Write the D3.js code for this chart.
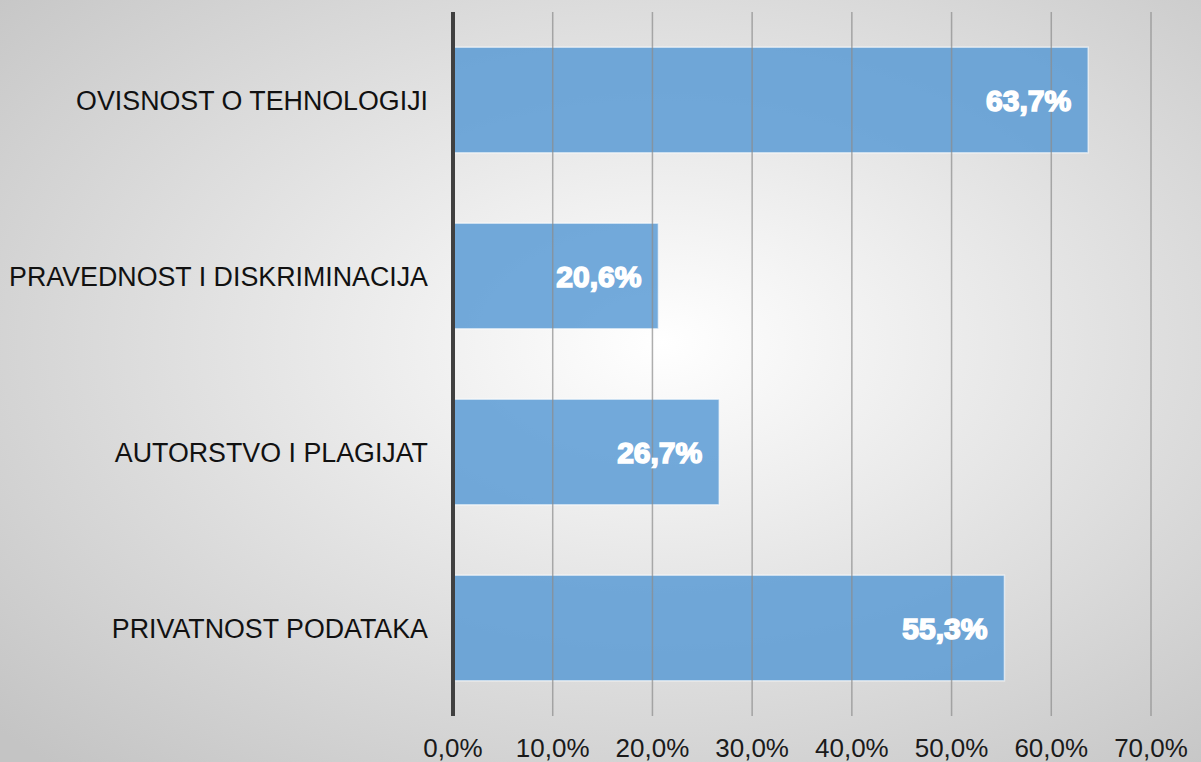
<!DOCTYPE html>
<html>
<head>
<meta charset="utf-8">
<script src="https://cdn.jsdelivr.net/npm/d3@7"></script>
<style>
  body { margin: 0; overflow: hidden; }
  text { font-family: "Liberation Sans", Arial, sans-serif; }
</style>
</head>
<body>
<div id="chart"></div>
<script>
const WIDTH = 1201;
const HEIGHT = 762;

const categories = ["OVISNOST O TEHNOLOGIJI", "PRAVEDNOST I DISKRIMINACIJA", "AUTORSTVO I PLAGIJAT", "PRIVATNOST PODATAKA"];
const values = [63.7, 20.6, 26.7, 55.3];
const ticks = [0, 10, 20, 30, 40, 50, 60, 70];

const margin = { top: 12, right: 50, bottom: 46, left: 453 };

const svg = d3.select("#chart")
    .append("svg")
    .attr("width", WIDTH)
    .attr("height", HEIGHT);

// Background: soft radial gradient, white in the middle, grey at the corners
const defs = svg.append("defs");
const grad = defs.append("radialGradient")
    .attr("id", "bg")
    .attr("cx", "55%").attr("cy", "45%").attr("r", "75%");
grad.append("stop").attr("offset", "0%").attr("stop-color", "#ffffff");
grad.append("stop").attr("offset", "100%").attr("stop-color", "#c4c4c4");

svg.append("rect")
    .attr("width", WIDTH)
    .attr("height", HEIGHT)
    .attr("fill", "url(#bg)");

const x = d3.scaleLinear()
    .domain([0, 70])
    .range([margin.left, WIDTH - margin.right]);

const y = d3.scaleBand()
    .domain(categories)
    .range([margin.top, HEIGHT - margin.bottom])
    .paddingInner(0.4)
    .paddingOuter(0.2);

const fmt = v => v.toFixed(1).replace(".", ",") + "%";

// Bars first, grid lines show through them
svg.append("g")
    .selectAll("rect")
    .data(values)
    .join("rect")
    .attr("x", x(0))
    .attr("y", (d, i) => y(categories[i]))
    .attr("width", d => x(d) - x(0))
    .attr("height", y.bandwidth())
    .attr("fill", "#5b9bd5")
    .attr("fill-opacity", 0.85)
    .attr("stroke", "#ffffff")
    .attr("stroke-opacity", 0.6)
    .attr("stroke-width", 1.5);

// Vertical grid lines
svg.append("g")
    .selectAll("line")
    .data(ticks.slice(1))
    .join("line")
    .attr("x1", d => x(d))
    .attr("x2", d => x(d))
    .attr("y1", margin.top)
    .attr("y2", HEIGHT - margin.bottom)
    .attr("stroke", "#8c8c8c")
    .attr("stroke-opacity", 0.7)
    .attr("stroke-width", 1.5);

// Category axis line
svg.append("line")
    .attr("x1", x(0))
    .attr("x2", x(0))
    .attr("y1", margin.top)
    .attr("y2", HEIGHT - margin.bottom)
    .attr("stroke", "#404040")
    .attr("stroke-width", 4);

// Tick labels
svg.append("g")
    .selectAll("text")
    .data(ticks)
    .join("text")
    .attr("x", d => x(d))
    .attr("y", 757)
    .attr("text-anchor", "middle")
    .attr("font-size", 26)
    .attr("fill", "#1a1a1a")
    .text(d => fmt(d));

// Category labels
svg.append("g")
    .selectAll("text")
    .data(categories)
    .join("text")
    .attr("x", 428)
    .attr("y", d => y(d) + y.bandwidth() / 2 + 10)
    .attr("text-anchor", "end")
    .attr("font-size", 26.8)
    .attr("fill", "#111111")
    .text(d => d);

// Value labels inside bar ends
svg.append("g")
    .selectAll("text")
    .data(values)
    .join("text")
    .attr("x", d => x(d) - 17)
    .attr("y", (d, i) => y(categories[i]) + y.bandwidth() / 2 + 11)
    .attr("text-anchor", "end")
    .attr("font-size", 30)
    .attr("font-weight", "bold")
    .attr("fill", "#ffffff")
    .attr("stroke", "#ffffff")
    .attr("stroke-width", 1.6)
    .style("paint-order", "stroke")
    .text(d => fmt(d));
</script>
</body>
</html>
